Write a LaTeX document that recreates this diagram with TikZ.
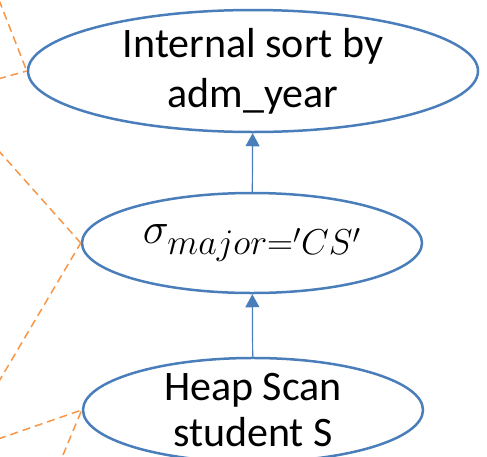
\documentclass[tikz,border=0pt]{standalone}
\usepackage{fix-cm}
\usepackage{fontspec}
\setmainfont{Carlito}
\DeclareMathSizes{42}{44}{36}{27}
\usetikzlibrary{arrows.meta,shapes.geometric}
\definecolor{opblue}{HTML}{4A7EBB}
\definecolor{linkorange}{HTML}{F79646}
\tikzset{
	op/.style={draw=opblue,line width=2.5pt,ellipse,inner sep=0pt,align=center,font=\fontsize{42}{50}\selectfont},
	flow/.style={draw=opblue,line width=1.2pt,-{Triangle[length=13pt,width=14pt]}},
	link/.style={draw=linkorange,line width=1.5pt,dash pattern=on 8pt off 5pt}
}
\begin{document}
\begin{tikzpicture}[x=1pt,y=-1pt]
	\useasboundingbox (0,0) rectangle (487,456);
	\clip (0,0) rectangle (487,456);
	\node[op,minimum width=450pt,minimum height=122pt] (sort) at (253,71) {Internal sort by\\adm\_year};
	\node[op,minimum width=340pt,minimum height=100pt] (sel) at (252,243) {$\sigma_{major='CS'}$};
	\node[op,minimum width=340pt,minimum height=96pt,font=\fontsize{42}{46}\selectfont] (scan) at (253,410) {Heap Scan\\student S};
	\draw[flow] (sel) -- (sort);
	\draw[flow] (scan) -- (sel);
	\node[coordinate] (a1) at (-1,0) {};
	\node[coordinate] (a2) at (-2,79) {};
	\node[coordinate] (b1) at (-2,150) {};
	\node[coordinate] (b2) at (-2,383) {};
	\node[coordinate] (c1) at (-2,439) {};
	\node[coordinate] (c2) at (58,467) {};
	\draw[link] (a1) -- (sort.west);
	\draw[link] (a2) -- (sort.west);
	\draw[link] (b1) -- (sel.west);
	\draw[link] (b2) -- (sel.west);
	\draw[link] (c1) -- (scan.west);
	\draw[link] (c2) -- (scan.west);
\end{tikzpicture}
\end{document}
